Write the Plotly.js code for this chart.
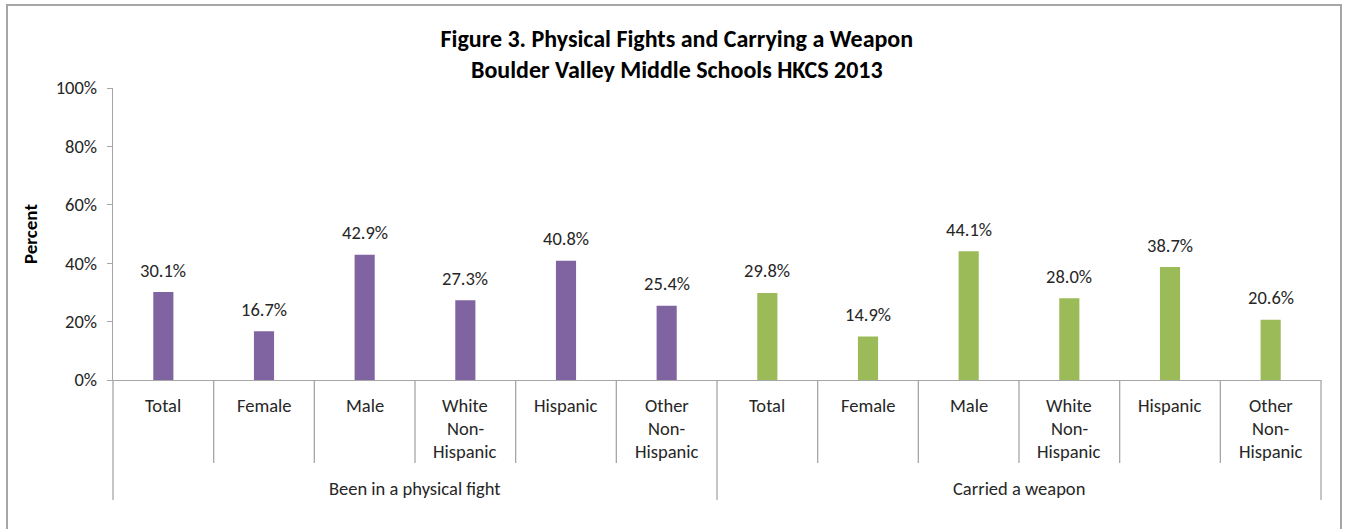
<!DOCTYPE html>
<html><head><meta charset="utf-8">
<script src="https://cdn.plot.ly/plotly-3.0.1.min.js"></script>
<style>
html,body{margin:0;padding:0;background:#fff;}
#chart{width:1351px;height:529px;}
#frame{position:absolute;left:6px;top:4px;width:1336px;height:540px;border:2px solid #a6a6a6;pointer-events:none;box-sizing:border-box;}
</style></head>
<body>
<div id="chart"></div>
<div id="frame"></div>
<script>
const subLabels = ["Total","Female","Male","White<br>Non-<br>Hispanic","Hispanic","Other<br>Non-<br>Hispanic"];
const groups = ["Been in a physical fight","Carried a weapon"];
const fightValues = [30.1,16.7,42.9,27.3,40.8,25.4];
const weaponValues = [29.8,14.9,44.1,28.0,38.7,20.6];
const yTicks = [0,20,40,60,80,100];
const yTickText = ["0%","20%","40%","60%","80%","100%"];

const FONT = "Calibri, Carlito, Lato, 'Liberation Sans', Arial, sans-serif";
const FS = 18.5;
const nSub = subLabels.length;
const nAll = nSub*groups.length;
const allVals = [fightValues, weaponValues];
const colors = ["#8064A2","#9BBB59"];

const traces = allVals.map((vals,g)=>({
  type:'bar',
  x: vals.map((v,i)=>g*nSub+i),
  y: vals,
  width:0.2,
  marker:{color:colors[g]},
  hoverinfo:'skip',
  showlegend:false
}));

const annotations = [];
allVals.forEach((vals,g)=>{
  vals.forEach((v,i)=>{
    annotations.push({x:g*nSub+i,y:v,xref:'x',yref:'y',text:v.toFixed(1)+'%',showarrow:false,
      yanchor:'middle',yshift:22,font:{family:FONT,size:FS,color:'#262626'}});
    subLabels[i].split('<br>').forEach((line,k)=>{
      annotations.push({x:g*nSub+i,y:0,xref:'x',yref:'paper',text:line,showarrow:false,
        yanchor:'middle',yshift:-25-23*k,font:{family:FONT,size:FS,color:'#262626'}});
    });
  });
  annotations.push({x:g*nSub+(nSub-1)/2,y:0,xref:'x',yref:'paper',text:groups[g],showarrow:false,
    yanchor:'middle',yshift:-108,font:{family:FONT,size:FS,color:'#262626'}});
});

const plotH = 529-88-149;
const shapes = [];
for(let b=0;b<=nAll;b++){
  const isGroup = (b % nSub)===0;
  shapes.push({type:'line',xref:'paper',yref:'paper',x0:b/nAll,x1:b/nAll,y0:0,
    y1:-(isGroup?120:83)/plotH,line:{color:'#a6a6a6',width:1.3}});
}

const layout = {
  width:1351,height:529,
  margin:{l:113,r:30,t:88,b:149},
  paper_bgcolor:'#fff',plot_bgcolor:'#fff',
  title:{text:'<b>Figure 3. Physical Fights and Carrying a Weapon<br>Boulder Valley Middle Schools HKCS 2013</b>',
    x:0.501,xanchor:'center',y:0.912,yanchor:'bottom',yref:'container',
    font:{family:FONT,size:24,color:'#000'}},
  xaxis:{range:[-0.5,nAll-0.5],showticklabels:false,ticks:'',showgrid:false,zeroline:false,
    showline:true,linecolor:'#a6a6a6',linewidth:1.3,fixedrange:true},
  yaxis:{range:[0,100],tickvals:yTicks,ticktext:yTickText,ticks:'outside',ticklen:5,tickcolor:'#a6a6a6',
    ticklabelstandoff:6,
    showgrid:false,zeroline:false,showline:true,linecolor:'#a6a6a6',linewidth:1.3,
    tickfont:{family:FONT,size:FS,color:'#262626'},
    title:{text:'<b>Percent</b>',font:{family:FONT,size:19,color:'#000'},standoff:13},fixedrange:true},
  annotations:annotations,
  shapes:shapes,
  bargap:0.8
};
Plotly.newPlot('chart',traces,layout,{displayModeBar:false,staticPlot:true});
</script>
</body></html>
